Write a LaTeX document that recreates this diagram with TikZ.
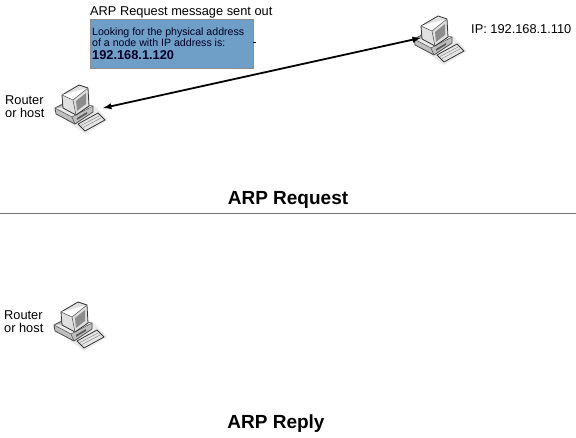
\documentclass[tikz,border=0pt]{standalone}
\usepackage{fontspec}
\setmainfont{Liberation Sans}
\definecolor{msgblue}{RGB}{111,158,198}
\tikzset{
    hostbox/.style={minimum width=46pt,minimum height=46pt,inner sep=0pt},
    lbl/.style={inner sep=0pt,align=left,anchor=west,font=\fontsize{12.8}{14}\selectfont},
    heading/.style={inner sep=0pt,font=\bfseries\fontsize{19}{20}\selectfont},
    pics/computer/.style={code={
        \fill[black!8] (-27,2) -- (-17,-6) -- (15,-2) -- (28,12) -- (5,26) -- (-6,18) -- cycle;
        \draw[black!70,fill=black!25,line join=round,line width=.8pt] (-25,0) -- (-17,-4) -- (13,-2) -- (13,4) -- (-5,16) -- (-24,6) -- cycle;
        \draw[black!70,fill=black!8,line width=.5pt] (-25,0) -- (-8,9) -- (13,-2);
        \draw[black!70,line width=.5pt] (-8,9) -- (-5,16);
        \fill[black!65] (-3,10) -- (7,4) -- (7,6) -- (-3,12) -- cycle;
        \draw[black!80,fill=black!12,line join=round,line width=.8pt] (-18,-13) -- (-1,-23) -- (8,-20) -- (9,-2) -- (-4,7) -- (-17,0) -- cycle;
        \draw[black!70,fill=white,line width=.5pt] (-18,-13) -- (-7,-8) -- (8,-20) (-7,-8) -- (-4,7);
        \fill[black!45] (-4,-7) -- (6,-15) -- (6,-4) -- (-3,3) -- cycle;
        \draw[black!80,fill=black!10,line join=round,line width=.8pt] (-2,16) -- (18,5) -- (25,12) -- (5,23) -- cycle;
        \draw[black!45,line width=.5pt] (1,17.5) -- (19,8) (3,19.5) -- (21,10);
    }}
}
\begin{document}
\begin{tikzpicture}[x=1pt,y=-1pt]
    \useasboundingbox (0,0) rectangle (576,438);
    % request
    \node[hostbox] (hostA) at (80,108) {};
    \node[hostbox] (hostB) at (439,39) {};
    \pic at (hostA) {computer};
    \pic at (hostB) {computer};
    \draw[latex-latex,line width=1.8pt,shorten >=-5pt] (hostA.east) -- (hostB.west);
    \node[lbl] (msgtitle) at (90,12) {ARP Request message sent out};
    \node[draw=black!45,fill=msgblue,minimum width=163pt,minimum height=49pt,inner sep=0pt] (msgbox) at (171.5,43.5) {};
    \node[lbl,font=\fontsize{10.6}{11}\selectfont,text=black!85!blue] (msgtext) at (92,37) {Looking for the physical address\\of a node with IP address is:};
    \node[lbl,font=\bfseries\fontsize{12.8}{14}\selectfont,text=black!85!blue] (msgip) at (92,55) {192.168.1.120};
    \coordinate (tick) at (256,42);
    \draw[line width=.8pt] (msgbox.east |- tick) -- (tick);
    \node[lbl] (routerA) at (5,100) {Router};
    \node[lbl] (orhostA) at (5,113) {or host};
    \node[lbl] (ipB) at (471,29) {IP: 192.168.1.110};
    \node[heading] (reqhead) at (288,200) {ARP Request};
    % divider
    \coordinate (divL) at (0,213);
    \coordinate (divR) at (576,213);
    \draw[black!55,line width=.8pt] (divL) -- (divR);
    % reply
    \node[hostbox] (hostC) at (79,325) {};
    \pic at (hostC) {computer};
    \node[lbl] (routerC) at (4,315) {Router};
    \node[lbl] (orhostC) at (4,328) {or host};
    \node[heading] (rephead) at (276,424) {ARP Reply};
\end{tikzpicture}
\end{document}
